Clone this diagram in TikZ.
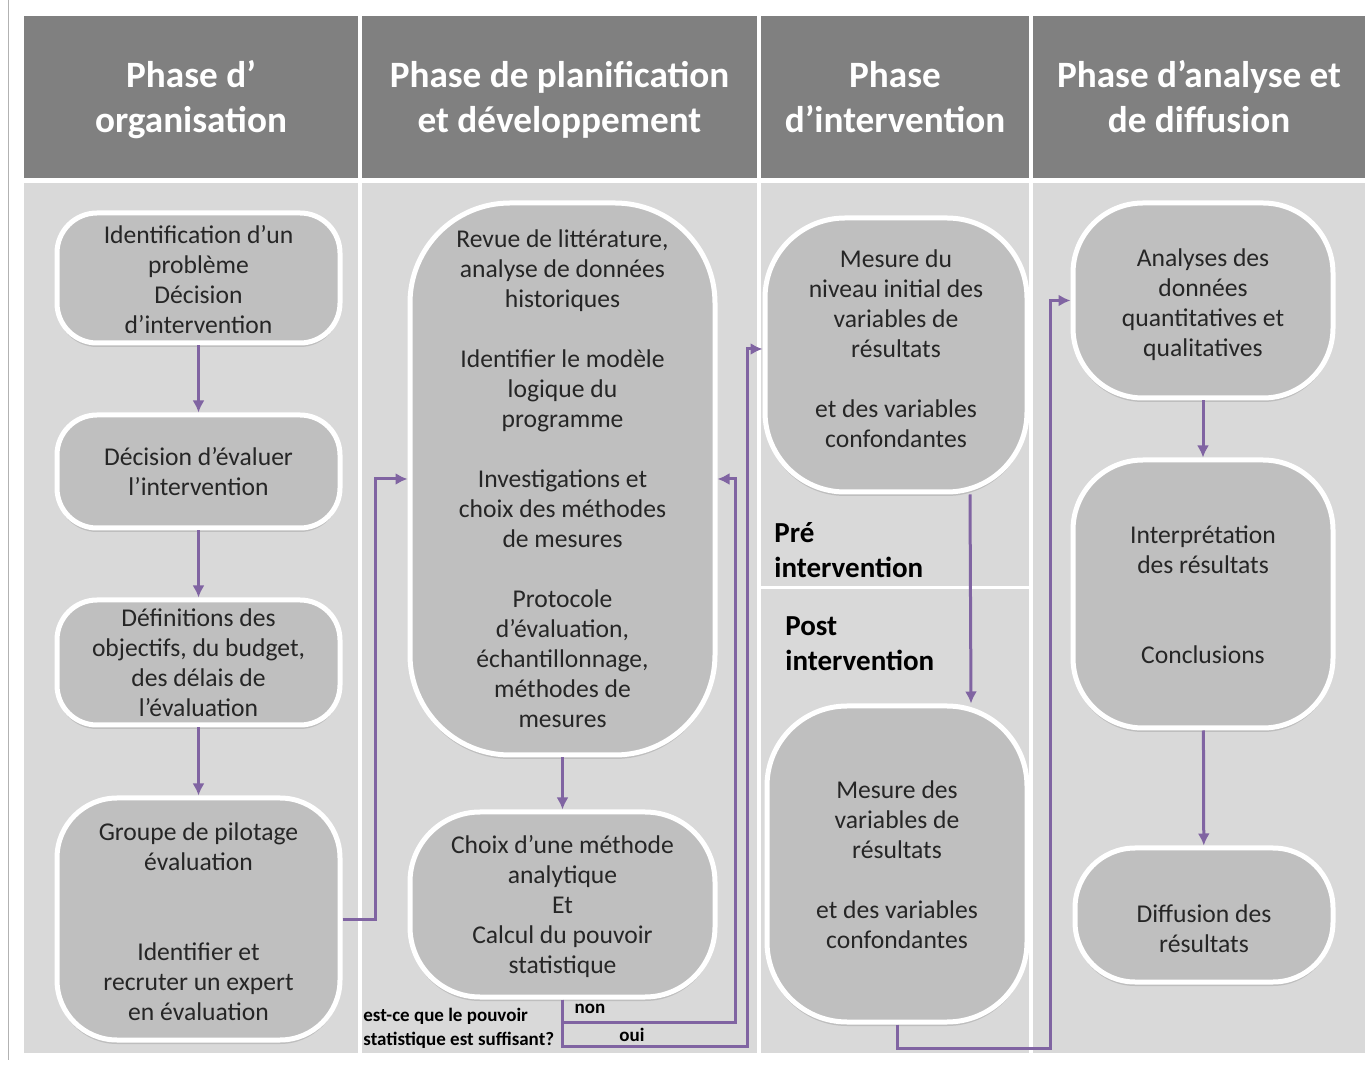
\documentclass[tikz,border=0pt]{standalone}
\usepackage{fontspec}
\setmainfont{Carlito}
\usetikzlibrary{arrows.meta,fit,shadows}
\definecolor{violet}{HTML}{8064A2}
\tikzset{
  box/.style={draw=white, line width=2.5pt, fill=gray!50, inner sep=0pt,
    drop shadow={shadow xshift=0pt, shadow yshift=-2pt, opacity=0.3}},
  txt/.style={align=center, inner sep=0pt, text=black!85, font=\fontsize{12.8}{15}\selectfont},
  phase/.style={fill=gray, inner sep=0pt},
  phasetxt/.style={align=center, inner sep=0pt, text=white, font=\bfseries\fontsize{18.6}{22.5}\selectfont},
  flow/.style={draw=violet, line width=1.5pt, -{Latex[length=6pt,width=6pt]}},
  moment/.style={align=left, inner sep=0pt, font=\bfseries\fontsize{14.5}{17.5}\selectfont},
  petit/.style={align=left, inner sep=0pt, font=\bfseries\fontsize{9.5}{12}\selectfont}
}
\begin{document}
\begin{tikzpicture}[x=0.5pt,y=-0.5pt]
\useasboundingbox[fill=white] (0,0) rectangle (1371,1068);
\draw[gray!60, line width=0.5pt] (8,0) -- (8,1060);
% colonnes
\fill[gray!30] (24,183) rectangle (358,1053);
\fill[gray!30] (362,183) rectangle (757,1053);
\fill[gray!30] (761,183) rectangle (1029,1053);
\fill[gray!30] (1033,183) rectangle (1365,1053);
\draw[white, line width=1.5pt] (761,588) -- (1029,588);
\node[phase, fit={(24,16) (358,178)}] (ph1) {};
\node[phase, fit={(362,16) (757,178)}] (ph2) {};
\node[phase, fit={(761,16) (1029,178)}] (ph3) {};
\node[phase, fit={(1033,16) (1365,178)}] (ph4) {};
\node[phasetxt] (tph1) at ([yshift=-1.5pt]ph1.center) {Phase d'\\organisation};
\node[phasetxt] (tph2) at ([yshift=-1.5pt]ph2.center) {Phase de planification\\et développement};
\node[phasetxt] (tph3) at (ph3.center) {Phase\\d'intervention};
\node[phasetxt] (tph4) at (ph4.center) {Phase d'analyse et\\de diffusion};
% phase d'organisation
\node[box, rounded corners=20pt, fit={(57,213) (340,343)}] (ident) {};
\node[box, rounded corners=20pt, fit={(57,415) (340,528)}] (evaluer) {};
\node[box, rounded corners=20pt, fit={(57,600) (340,725)}] (objectifs) {};
\node[box, rounded corners=30pt, fit={(57,798) (340,1040)}] (pilotage) {};
\node[txt] (tident) at ([yshift=-1pt]ident.center) {Identification d'un\\problème\\Décision\\d'intervention};
\node[txt] (tevaluer) at (evaluer.center) {Décision d'évaluer\\l'intervention};
\node[txt] (tobjectifs) at (objectifs.center) {Définitions des\\objectifs, du budget,\\des délais de\\l'évaluation};
\node[txt] (tpilotage) at ([yshift=-1.5pt]pilotage.center) {Groupe de pilotage\\évaluation\\[30pt]Identifier et\\recruter un expert\\en évaluation};
% phase de planification
\node[box, rounded corners=50pt, fit={(410,203) (715,755)}] (revue) {};
\node[box, rounded corners=35pt, fit={(410,812) (715,997)}] (choix) {};
\node[txt] (trevue) at (revue.center) {Revue de littérature,\\analyse de données\\historiques\\[15pt]Identifier le modèle\\logique du\\programme\\[15pt]Investigations et\\choix des méthodes\\de mesures\\[15pt]Protocole\\d'évaluation,\\échantillonnage,\\méthodes de\\mesures};
\node[txt] (tchoix) at ([yshift=-1pt]choix.center) {Choix d'une méthode\\analytique\\Et\\Calcul du pouvoir\\statistique};
% phase d'intervention
\node[box, rounded corners=40pt, fit={(765,218) (1027,492)}] (pre) {};
\node[box, rounded corners=40pt, fit={(767,706) (1027,1022)}] (post) {};
\node[txt] (tpre) at ([yshift=3pt]pre.center) {Mesure du\\niveau initial des\\variables de\\résultats\\[15pt]et des variables\\confondantes};
\node[txt] (tpost) at ([yshift=-0.5pt]post.center) {Mesure des\\variables de\\résultats\\[15pt]et des variables\\confondantes};
\node[moment, anchor=west] (mpre) at (774,550) {Pré\\intervention};
\node[moment, anchor=west] (mpost) at (785,644) {Post\\intervention};
% phase d'analyse
\node[box, rounded corners=35pt, fit={(1073,203) (1333,398)}] (analyse) {};
\node[box, rounded corners=35pt, fit={(1073,460) (1333,728)}] (interp) {};
\node[box, rounded corners=30pt, fit={(1075,848) (1333,982)}] (diffusion) {};
\node[txt] (tanalyse) at ([yshift=-2pt]analyse.center) {Analyses des\\données\\quantitatives et\\qualitatives};
\node[txt] (tinterp) at ([yshift=-0.5pt]interp.center) {Interprétation\\des résultats\\[30pt]Conclusions};
\node[txt] (tdiffusion) at ([yshift=-7pt]diffusion.center) {Diffusion des\\résultats};
% fleches
\draw[flow] (ident) -- (evaluer);
\draw[flow] (evaluer) -- (objectifs);
\draw[flow] (objectifs) -- (pilotage);
\draw[flow] (pilotage.east) -- ++(33,0) |- (revue.west);
\draw[flow] (revue) -- (choix);
\coordinate (non) at (735,1022);
\coordinate (oui) at (747,1046);
\draw[flow] (choix.south) |- (non) |- (revue.east);
\draw[flow] (choix.south) |- (oui) |- ([yshift=3pt]pre.west);
\draw[flow] ([xshift=37pt]pre.south) -- ([xshift=37pt]post.north);
\coordinate (diff) at (1050,1048);
\draw[flow] (post.south) |- (diff) |- (analyse.west);
\draw[flow] (analyse) -- (interp);
\draw[flow] (interp) -- (diffusion);
\node[petit, anchor=west] (question) at (363,1028) {est-ce que le pouvoir\\statistique est suffisant?};
\node[petit] (lnon) at (590,1009) {non};
\node[petit] (loui) at (632,1035) {oui};
\end{tikzpicture}
\end{document}
